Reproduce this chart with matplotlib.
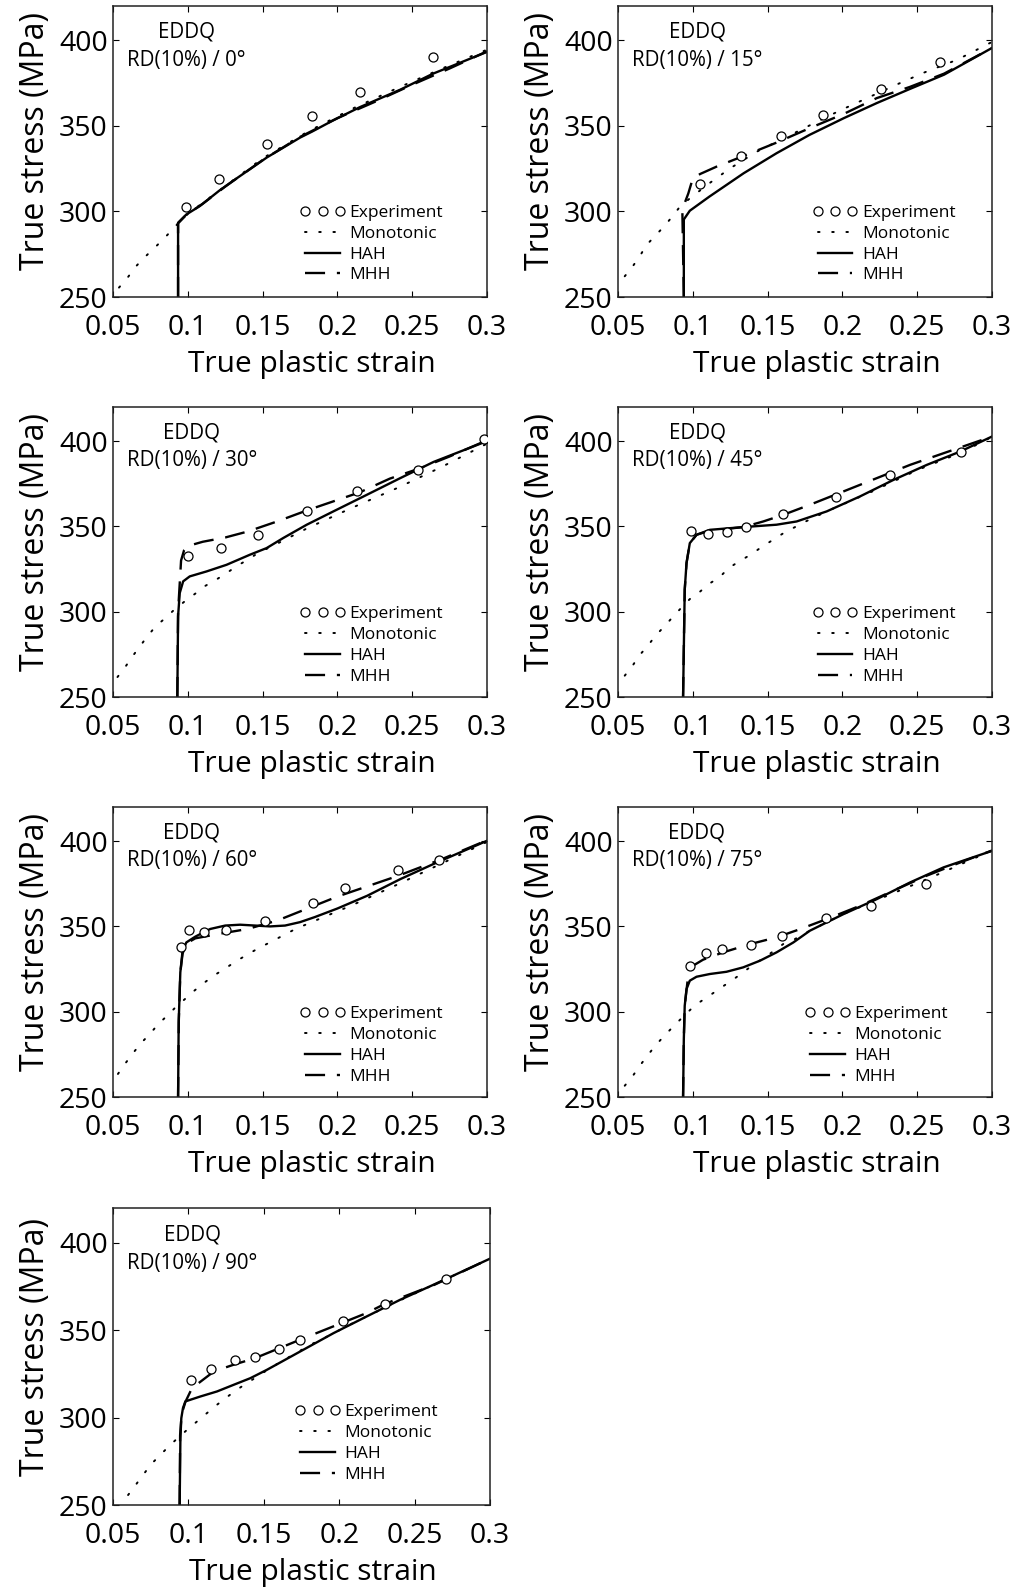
import matplotlib
matplotlib.use("Agg")
import matplotlib.pyplot as plt
from matplotlib.lines import Line2D

plt.rcParams['font.family'] = ['Open Sans', 'DejaVu Sans']

# Pre-strain direction angle of each panel
angles = [0, 15, 30, 45, 60, 75, 90]

# Experimental reload flow stress (circles)
exp_x = [
    [0.099, 0.121, 0.153, 0.183, 0.215, 0.264],
    [0.105, 0.132, 0.159, 0.187, 0.226, 0.265],
    [0.100, 0.122, 0.147, 0.180, 0.213, 0.254, 0.298],
    [0.099, 0.110, 0.123, 0.1355, 0.1605, 0.196, 0.232, 0.279],
    [0.0957, 0.1009, 0.1109, 0.1254, 0.1519, 0.1838, 0.2054, 0.2402, 0.2681],
    [0.0984, 0.1091, 0.1196, 0.1386, 0.1594, 0.1891, 0.2188, 0.256],
    [0.1017, 0.1152, 0.1306, 0.1443, 0.1602, 0.1741, 0.2024, 0.2305, 0.2707],
]
exp_y = [
    [302.3, 318.8, 339.3, 355.9, 369.9, 390.4],
    [315.8, 332.4, 343.8, 356.4, 371.7, 387.1],
    [332.4, 337.5, 345.1, 359.2, 370.7, 383.2, 401.2],
    [347.1, 345.7, 346.9, 349.6, 357.2, 367.4, 380.1, 393.6],
    [337.7, 348.0, 346.9, 348.0, 353.3, 363.7, 372.5, 383.0, 389.1],
    [326.6, 334.2, 336.7, 339.3, 344.3, 354.7, 361.7, 374.6],
    [321.7, 328.0, 333.2, 334.5, 339.5, 344.6, 355.1, 365.0, 379.2],
]

# Monotonic flow curve (dotted)
mono_x = [
    [0.054, 0.060, 0.065, 0.071, 0.077, 0.083, 0.089, 0.094, 0.100, 0.120, 0.150,
     0.180, 0.210, 0.240, 0.270, 0.300],
    [0.0545, 0.060, 0.065, 0.069, 0.075, 0.081, 0.086, 0.091, 0.098, 0.111, 0.125,
     0.143, 0.161, 0.178, 0.198, 0.214, 0.236, 0.254, 0.277, 0.300],
    [0.053, 0.0585, 0.063, 0.068, 0.073, 0.0785, 0.085, 0.091, 0.098, 0.105, 0.111,
     0.119, 0.126, 0.1325, 0.140, 0.147, 0.160, 0.180, 0.210, 0.240, 0.270, 0.300],
    [0.0545, 0.060, 0.0645, 0.070, 0.075, 0.081, 0.086, 0.092, 0.098, 0.105, 0.111,
     0.118, 0.124, 0.131, 0.139, 0.145, 0.153, 0.160, 0.167, 0.175, 0.190, 0.220,
     0.250, 0.280, 0.300],
    [0.0533, 0.0585, 0.0638, 0.0692, 0.075, 0.0803, 0.0863, 0.0924, 0.0986, 0.1046,
     0.1113, 0.118, 0.1254, 0.1325, 0.1396, 0.147, 0.1548, 0.1622, 0.1698, 0.1771,
     0.1849, 0.210, 0.240, 0.270, 0.300],
    [0.0545, 0.060, 0.065, 0.0696, 0.075, 0.0806, 0.0864, 0.0924, 0.0984, 0.1051,
     0.1121, 0.1192, 0.1259, 0.1331, 0.140, 0.150, 0.1605, 0.1683, 0.1761, 0.200,
     0.230, 0.260, 0.300],
    [0.060, 0.0653, 0.0703, 0.0752, 0.081, 0.0869, 0.0929, 0.0991, 0.1057, 0.1123,
     0.119, 0.1256, 0.1322, 0.1388, 0.1459, 0.1532, 0.161, 0.1676, 0.1753, 0.182,
     0.1893, 0.210, 0.240, 0.270, 0.300],
]
mono_y = [
    [255.5, 261.6, 267.6, 273.1, 278.1, 283.2, 288.7, 293.5, 298.5, 311.5, 331.0,
     346.5, 360.0, 372.0, 383.5, 394.5],
    [262.1, 268.1, 274.5, 280.3, 285.9, 291.4, 296.7, 302.3, 307.6, 316.4, 325.2,
     335.0, 342.8, 350.2, 358.8, 365.2, 374.0, 380.9, 388.7, 399.0],
    [261.7, 268.0, 273.8, 279.7, 285.6, 291.4, 296.3, 301.2, 306.1, 310.6, 314.8,
     318.8, 322.7, 326.6, 330.5, 334.4, 340.0, 349.0, 361.0, 372.5, 385.0, 398.5],
    [262.5, 268.7, 274.6, 280.1, 285.9, 291.4, 296.3, 302.0, 307.4, 311.9, 316.4,
     320.3, 325.6, 329.5, 333.6, 337.3, 341.8, 345.7, 349.0, 352.7, 359.0, 370.5,
     383.0, 393.5, 402.5],
    [263.5, 270.0, 276.2, 282.0, 287.3, 292.8, 297.7, 303.1, 307.8, 312.5, 317.2,
     321.5, 325.6, 329.7, 333.4, 337.1, 340.6, 344.0, 347.5, 350.4, 353.3, 362.5,
     374.5, 387.0, 399.5],
    [256.6, 262.5, 268.8, 274.2, 280.1, 285.6, 290.8, 296.1, 301.2, 305.9, 310.0,
     314.3, 318.2, 322.7, 327.3, 333.0, 339.7, 342.6, 346.5, 357.0, 368.0, 379.0,
     394.5],
    [255.7, 261.8, 267.6, 273.3, 278.3, 283.5, 288.3, 293.0, 297.8, 302.6, 307.4,
     311.8, 316.0, 319.8, 323.6, 327.8, 331.8, 335.1, 338.9, 342.2, 345.2, 354.5,
     367.0, 379.0, 391.0],
]

# HAH model prediction (solid)
hah_x = [
    [0.0935, 0.0935, 0.099, 0.108, 0.121, 0.130, 0.153, 0.175, 0.183, 0.197, 0.215,
     0.242, 0.264, 0.300],
    [0.094, 0.094, 0.098, 0.111, 0.134, 0.156, 0.178, 0.201, 0.223, 0.245, 0.268,
     0.300],
    [0.093, 0.0935, 0.0946, 0.0969, 0.1013, 0.1125, 0.1259, 0.1415, 0.1527, 0.1638,
     0.1795, 0.1973, 0.2196, 0.2420, 0.2643, 0.300],
    [0.0935, 0.0946, 0.0958, 0.098, 0.1025, 0.1114, 0.1337, 0.156, 0.1694, 0.1895,
     0.2118, 0.2342, 0.2565, 0.2788, 0.300],
    [0.0935, 0.0939, 0.095, 0.0964, 0.099, 0.105, 0.115, 0.125, 0.135, 0.145, 0.155,
     0.165, 0.175, 0.185, 0.200, 0.220, 0.242, 0.264, 0.300],
    [0.0935, 0.094, 0.0946, 0.0958, 0.098, 0.1025, 0.1114, 0.1225, 0.1337, 0.1449,
     0.156, 0.1672, 0.1783, 0.2007, 0.223, 0.2453, 0.2676, 0.300],
    [0.0942, 0.0947, 0.0953, 0.0964, 0.098, 0.1079, 0.119, 0.130, 0.1411, 0.1521,
     0.1742, 0.1963, 0.2184, 0.2405, 0.2626, 0.300],
]
hah_y = [
    [250.0, 293.4, 298.2, 303.1, 312.1, 317.7, 331.6, 343.1, 346.6, 353.1, 360.9,
     371.1, 380.5, 393.2],
    [250.0, 295.3, 300.4, 308.6, 322.3, 334.0, 344.7, 354.5, 363.3, 371.5, 379.9,
     395.5],
    [250.0, 297.3, 310.9, 317.8, 320.7, 323.6, 327.5, 333.4, 337.3, 343.2, 351.0,
     358.8, 368.5, 378.3, 387.8, 400.0],
    [250.0, 312.9, 328.5, 340.2, 345.1, 348.0, 349.6, 351.0, 352.9, 358.8, 367.6,
     377.3, 386.1, 393.9, 402.7],
    [250.0, 293.8, 323.1, 334.8, 340.6, 344.0, 348.5, 350.5, 351.0, 350.5, 350.0,
     350.5, 352.5, 355.5, 360.5, 368.0, 377.7, 386.5, 400.2],
    [250.0, 284.0, 303.5, 313.3, 318.2, 320.5, 322.1, 323.4, 326.0, 329.9, 334.8,
     340.6, 347.5, 357.2, 366.0, 375.8, 384.6, 394.3],
    [250.0, 288.2, 299.7, 305.5, 309.3, 312.1, 315.0, 318.8, 322.6, 327.4, 337.9,
     348.4, 358.0, 367.5, 376.1, 391.0],
]

# MHH model prediction (dashed)
mhh_x = [
    [0.0935, 0.0935, 0.099, 0.110, 0.125, 0.150, 0.175, 0.200, 0.225, 0.250, 0.275,
     0.300],
    [0.094, 0.093, 0.097, 0.100, 0.105, 0.116, 0.134, 0.156, 0.178, 0.201, 0.223,
     0.245, 0.268, 0.300],
    [0.093, 0.0935, 0.0945, 0.0955, 0.0975, 0.100, 0.110, 0.125, 0.140, 0.160, 0.180,
     0.200, 0.215, 0.235, 0.255, 0.275, 0.300],
    [0.0935, 0.0946, 0.0958, 0.098, 0.1025, 0.1114, 0.1337, 0.1471, 0.1605, 0.1783,
     0.2007, 0.223, 0.2453, 0.2676, 0.300],
    [0.0935, 0.094, 0.095, 0.0965, 0.099, 0.105, 0.120, 0.140, 0.160, 0.180, 0.200,
     0.220, 0.240, 0.270, 0.300],
    [0.0935, 0.094, 0.0946, 0.0969, 0.1002, 0.1069, 0.1203, 0.1382, 0.156, 0.1717,
     0.1895, 0.2118, 0.2342, 0.2565, 0.2788, 0.300],
    [0.0942, 0.0945, 0.0955, 0.098, 0.1024, 0.117, 0.130, 0.144, 0.161, 0.174, 0.196,
     0.218, 0.230, 0.263, 0.300],
]
mhh_y = [
    [250.0, 293.0, 298.0, 304.5, 314.5, 330.0, 343.5, 354.5, 364.0, 374.0, 383.5,
     393.5],
    [250.0, 301.2, 310.5, 319.3, 321.9, 326.2, 332.4, 340.2, 348.6, 357.0, 366.2,
     372.7, 380.5, 395.5],
    [250.0, 300.0, 315.0, 330.0, 336.0, 338.5, 341.0, 343.5, 347.0, 353.0, 359.5,
     365.5, 370.0, 378.0, 384.0, 391.0, 400.5],
    [250.0, 312.9, 328.5, 340.2, 345.1, 347.5, 349.6, 352.9, 356.8, 362.7, 370.5,
     378.3, 386.1, 392.9, 402.7],
    [250.0, 295.0, 323.0, 334.0, 340.0, 343.0, 345.5, 348.5, 353.5, 360.5, 367.5,
     373.5, 379.5, 389.5, 400.5],
    [250.0, 284.0, 303.5, 321.1, 327.0, 330.5, 334.8, 339.6, 343.6, 348.4, 354.3,
     362.1, 371.0, 379.8, 387.5, 394.5],
    [250.0, 290.0, 302.0, 309.0, 316.9, 326.5, 330.3, 334.0, 340.0, 344.6, 352.2,
     359.8, 365.0, 376.0, 391.0],
]

x_ticks = [0.05, 0.1, 0.15, 0.2, 0.25, 0.3]
x_tick_labels = ['0.05', '0.1', '0.15', '0.2', '0.25', '0.3']
y_ticks = [250, 300, 350, 400]
y_tick_labels = ['250', '300', '350', '400']

# Axes rectangles given as pixel edges (left, top, right, bottom)
W, H = 1023, 1588
panel_px = [
    (113, 6, 487, 297), (618, 6, 992, 297),
    (113, 407, 487, 697), (618, 407, 992, 697),
    (113, 807, 487, 1097), (618, 807, 992, 1097),
    (113, 1208, 490, 1505),
]
legend_x = [0.50, 0.52, 0.50, 0.52, 0.50, 0.50, 0.483]
legend_y = [0.317, 0.317, 0.313, 0.313, 0.313, 0.313, 0.34]

fig = plt.figure(figsize=(W / 100, H / 100), dpi=100)
renderer = fig.canvas.get_renderer()

mono_style = dict(color='k', lw=1.4, linestyle=(0, (0.8, 6.5)), dash_capstyle='round')
hah_style = dict(color='k', lw=1.7, linestyle='-')
mhh_style = dict(color='k', lw=1.7, linestyle=(0, (8.5, 5)))
exp_style = dict(linestyle='none', marker='o', mfc='white', mec='k', ms=6.5, mew=0.9)

for i, ang in enumerate(angles):
    l, t, r, b = panel_px[i]
    pw, ph = r - l, b - t
    ax = fig.add_axes([l / W, (H - b) / H, pw / W, ph / H])
    ax.plot(mono_x[i], mono_y[i], **mono_style)
    ax.plot(hah_x[i], hah_y[i], **hah_style)
    ax.plot(mhh_x[i], mhh_y[i], **mhh_style)
    ax.plot(exp_x[i], exp_y[i], zorder=5, **exp_style)

    ax.set_xlim(0.05, 0.3)
    ax.set_ylim(250, 420)
    ax.set_xticks(x_ticks)
    ax.set_xticklabels(x_tick_labels)
    ax.set_yticks(y_ticks)
    ax.set_yticklabels(y_tick_labels)
    ax.tick_params(direction='in', top=True, right=True, length=4, width=0.8,
                   labelsize=20.5, colors='k')
    ax.tick_params(axis='x', pad=12.5)
    ax.tick_params(axis='y', pad=3.8)
    for sp in ax.spines.values():
        sp.set_linewidth(1.1)
        sp.set_color('#222222')
    ax.set_xlabel('True plastic strain', fontsize=21.5)
    ax.set_ylabel('True stress (MPa)', fontsize=23)
    ax.xaxis.set_label_coords(0.5 + 11.5 / pw, -53.3 / ph)
    ax.yaxis.set_label_coords(-61.0 / pw, 0.5 + 10.0 / ph)

    # Two-line panel tag, upper line centred over the lower one
    rd = ax.text(0.037, 0.814, 'RD(10%) / ' + f'{ang}\u00b0', transform=ax.transAxes,
                 ha='left', va='center', fontsize=14.8)
    bb = rd.get_window_extent(renderer).transformed(ax.transAxes.inverted())
    ax.text((bb.x0 + bb.x1) / 2, 0.91, 'EDDQ', transform=ax.transAxes,
            ha='center', va='center', fontsize=14.8)

    handles = [
        Line2D([], [], **exp_style),
        Line2D([], [], **mono_style),
        Line2D([], [], **hah_style),
        Line2D([], [], **mhh_style),
    ]
    ax.legend(handles, ['Experiment', 'Monotonic', 'HAH', 'MHH'],
              loc='upper left', bbox_to_anchor=(legend_x[i], legend_y[i]),
              frameon=False, fontsize=12.5, numpoints=3, handlelength=2.6,
              handletextpad=0.25, labelspacing=0.27, borderpad=0, borderaxespad=0)

fig.savefig('out.png', dpi=100)
